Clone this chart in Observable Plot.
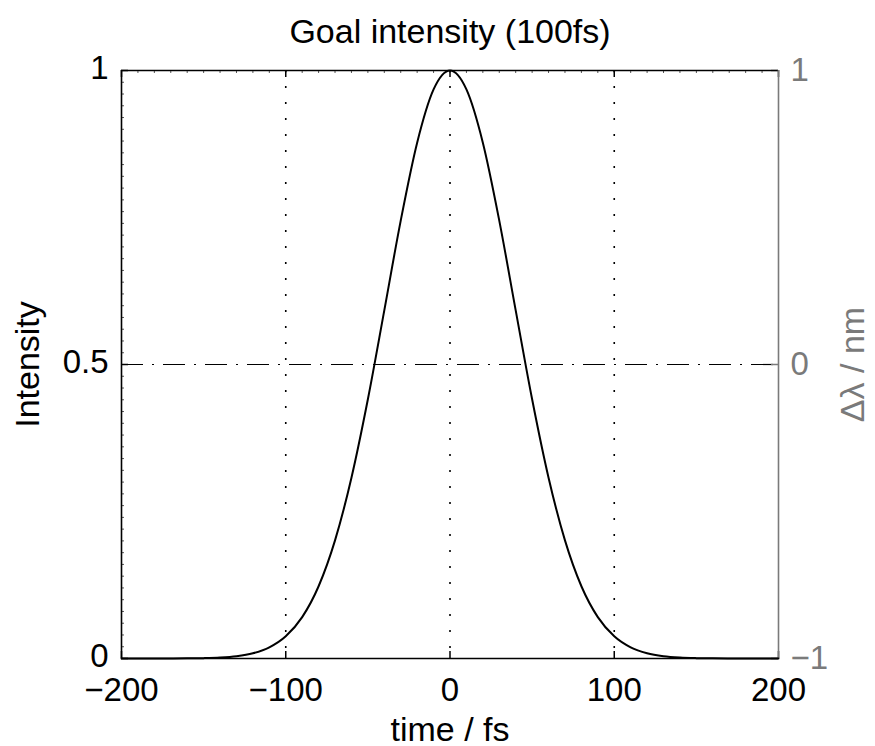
<!DOCTYPE html>
<html>
<head>
<meta charset="utf-8">
<script src="https://cdn.jsdelivr.net/npm/d3@7"></script>
<script src="https://cdn.jsdelivr.net/npm/@observablehq/plot@0.6"></script>
<style>
  html, body { margin: 0; padding: 0; background: #fff; }
</style>
</head>
<body>
<div id="chart"></div>
<script>
// ---- data ----
const titleText = "Goal intensity (100fs)";
const xLabel = "time / fs";
const yLabel = "Intensity";
const y2Label = "Δλ / nm";

const time = [-200,-190,-180,-170,-160,-150,-140,-130,-120,-110,-100,-90,-80,-70,-60,-50,-40,-30,-20,-10,
  0,10,20,30,40,50,60,70,80,90,100,110,120,130,140,150,160,170,180,190,200];
const intensity = [0,0.00001,0.00003,0.00008,0.00023,0.00063,0.00163,0.00394,0.00894,0.0190,0.0378,0.0704,0.1229,0.2009,0.3075,0.4409,0.5921,0.7447,0.8772,0.9678,
  1,0.9678,0.8772,0.7447,0.5921,0.4409,0.3075,0.2009,0.1229,0.0704,0.0378,0.0190,0.00894,0.00394,0.00163,0.00063,0.00023,0.00008,0.00003,0.00001,0];

const xTicks = [-200,-100,0,100,200];
const xTickLabels = ["−200","−100","0","100","200"];
const yTicks = [0,0.5,1];
const yTickLabels = ["0","0.5","1"];
const y2TickLabels = ["−1","0","1"];
const xGrid = [-100,0,100];
const yGrid = [0.5];
const xMinor = d3.range(-190, 200, 10);
const yMinor = d3.range(0.02, 1, 0.02);

const data = time.map((t, i) => ({t, v: intensity[i]}));

const W = 875, H = 746;
const mL = 121, mR = 97, mT = 70, mB = 88;
const innerW = W - mL - mR, innerH = H - mT - mB;
const FONT = "'Liberation Sans', Arial, Helvetica, sans-serif";
const FS = 34;      // titles
const TFS = 33;     // tick labels
const GRAY = "#7a7a7a";

const chart = Plot.plot({
  width: W,
  height: H,
  marginLeft: mL, marginRight: mR, marginTop: mT, marginBottom: mB,
  style: {fontFamily: FONT, fontSize: FS + "px", background: "#fff", color: "#000"},
  x: {domain: [xTicks[0], xTicks[xTicks.length - 1]]},
  y: {domain: [yTicks[0], yTicks[yTicks.length - 1]]},
  marks: [
    // grid
    Plot.ruleX(xGrid, {x: d => d, stroke: "#000", strokeWidth: 1.6, strokeDasharray: "2,14"}),
    Plot.ruleY(yGrid, {y: d => d, stroke: "#000", strokeWidth: 1.2, strokeDasharray: "22,9,2,9"}),
    // minor ticks (top & left, inward)
    Plot.tickX(xMinor, {x: d => d, stroke: "#555", strokeWidth: 1, insetBottom: innerH - 3}),
    Plot.tickY(yMinor, {y: d => d, stroke: "#555", strokeWidth: 1, insetRight: innerW - 3}),
    // major ticks inward
    Plot.tickX(xTicks, {x: d => d, stroke: "#000", strokeWidth: 1.5, insetBottom: innerH - 7}),
    Plot.tickX(xTicks, {x: d => d, stroke: "#000", strokeWidth: 1.5, insetTop: innerH - 7}),
    Plot.tickY(yTicks, {y: d => d, stroke: "#000", strokeWidth: 1.5, insetRight: innerW - 7}),
    Plot.tickY(yTicks, {y: d => d, stroke: GRAY, strokeWidth: 1.5, insetLeft: innerW - 7}),
    // frame
    Plot.ruleY([yTicks[0], yTicks[yTicks.length - 1]], {y: d => d, stroke: "#000", strokeWidth: 1.6}),
    Plot.ruleX([xTicks[0]], {x: d => d, stroke: "#000", strokeWidth: 1.6}),
    Plot.ruleX([xTicks[xTicks.length - 1]], {x: d => d, stroke: GRAY, strokeWidth: 1.6}),
    // curve
    Plot.line(data, {x: "t", y: "v", stroke: "#000", strokeWidth: 2, curve: "monotone-x"}),
    // axes labels
    Plot.axisX(xTicks, {anchor: "bottom", tickSize: 0, tickPadding: 19, fontSize: TFS,
      tickFormat: d => xTickLabels[xTicks.indexOf(d)], label: null}),
    Plot.axisY(yTicks, {anchor: "left", tickSize: 0, tickPadding: 13, fontSize: TFS, dy: -2,
      tickFormat: d => yTickLabels[yTicks.indexOf(d)], label: null}),
    Plot.axisY(yTicks, {anchor: "right", tickSize: 0, tickPadding: 12, fontSize: TFS, fill: GRAY,
      tickFormat: d => y2TickLabels[yTicks.indexOf(d)], label: null}),
    // title & axis titles
    Plot.text([titleText], {frameAnchor: "top", dy: -28, lineAnchor: "bottom", textAnchor: "middle", fontSize: FS, text: d => d}),
    Plot.text([xLabel], {frameAnchor: "bottom", dy: 82, lineAnchor: "bottom", textAnchor: "middle", fontSize: FS, text: d => d}),
    Plot.text([yLabel], {frameAnchor: "left", dx: -93, rotate: -90, lineAnchor: "middle", textAnchor: "middle", fontSize: FS, text: d => d}),
    Plot.text([y2Label], {frameAnchor: "right", dx: 75, rotate: -90, lineAnchor: "middle", textAnchor: "middle", fontSize: FS, fill: GRAY, text: d => d})
  ]
});

document.getElementById("chart").appendChild(chart);
</script>
</body>
</html>
